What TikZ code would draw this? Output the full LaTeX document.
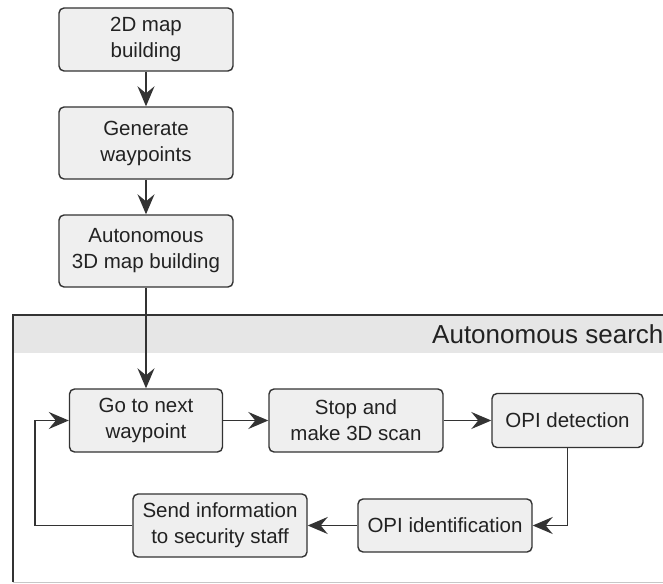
\documentclass[tikz,border=0pt]{standalone}
\usepackage{fontspec}
\setmainfont{Liberation Sans}
\usetikzlibrary{arrows.meta}
\definecolor{boxfill}{HTML}{EFEFEF}
\definecolor{boxline}{HTML}{333333}
\definecolor{headfill}{HTML}{E6E6E6}
\definecolor{txt}{HTML}{222222}
\begin{document}
\begin{tikzpicture}[x=1pt,y=-1pt,
  stepbox/.style={draw=boxline, fill=boxfill, line width=1.4pt, rounded corners=5pt,
    align=center, inner sep=0pt, text=txt,
    font=\fontsize{20.5}{26}\selectfont},
  conn/.style={draw=boxline, line width=1.6pt,
    -{Stealth[length=20pt,width=17pt,inset=7pt]}},
  plain/.style={draw=boxline, line width=1.5pt}]
\clip (0,0) rectangle (663,583);
\useasboundingbox (0,0) rectangle (663,583);
% container
\fill[white] (13,315) rectangle (720,582);
\fill[headfill] (13,315) rectangle (720,353);
\draw[boxline, line width=1.4pt] (13,582) -- (13,315) -- (720,315);
\draw[headfill!70!gray, line width=1pt] (13,582) -- (720,582);
\node[anchor=west, text=txt, font=\fontsize{26}{30}\selectfont, inner sep=0pt] (title) at (432,334) {Autonomous search};
% boxes
\node[stepbox, minimum width=174pt, minimum height=63pt] (b1) at (146,39.5) {2D map\\building};
\node[stepbox, minimum width=174pt, minimum height=72pt] (b2) at (146,143) {Generate\\waypoints};
\node[stepbox, minimum width=174pt, minimum height=72pt] (b3) at (146,251) {Autonomous\\3D map building};
\node[stepbox, minimum width=153pt, minimum height=63pt] (go) at (146,420.5) {Go to next\\waypoint};
\node[stepbox, minimum width=174pt, minimum height=63pt] (stop) at (356,420.5) {Stop and\\make 3D scan};
\node[stepbox, minimum width=151pt, minimum height=54pt] (det) at (567.5,420.5) {OPI detection};
\node[stepbox, minimum width=174pt, minimum height=53pt] (ident) at (445,525.5) {OPI identification};
\node[stepbox, minimum width=174pt, minimum height=63pt] (send) at (220,525.5) {Send information\\to security staff};
\coordinate (loop) at (35,525.5);
% connectors
\draw[conn] (b1.south) -- (b2.north);
\draw[conn] (b2.south) -- (b3.north);
\draw[conn] (b3.south) -- (go.north);
\draw[conn] (go.east) -- (stop.west);
\draw[conn] (stop.east) -- (det.west);
\draw[conn] (det.south) |- (ident.east);
\draw[conn] (ident.west) -- (send.east);
\draw[conn] (send.west) -- (loop) |- (go.west);
\end{tikzpicture}
\end{document}
